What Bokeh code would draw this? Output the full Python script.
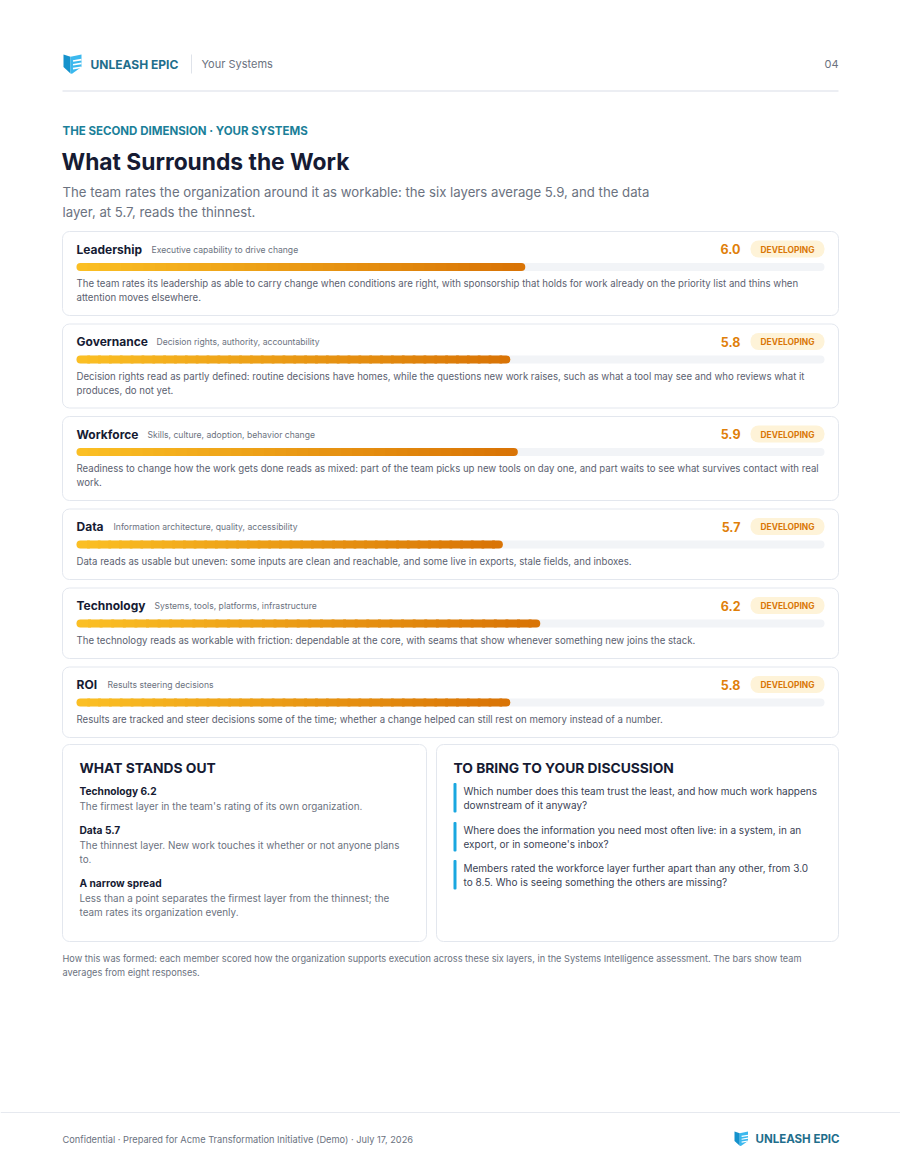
import numpy as np
from bokeh.plotting import figure
from bokeh.models import Range1d
from bokeh.embed import file_html
from bokeh.resources import INLINE
from bokeh.core.properties import value

# ---------------- data ----------------
layers = ["Leadership", "Governance", "Workforce", "Data", "Technology", "ROI"]
descriptors = [
    "Executive capability to drive change",
    "Decision rights, authority, accountability",
    "Skills, culture, adoption, behavior change",
    "Information architecture, quality, accessibility",
    "Systems, tools, platforms, infrastructure",
    "Results steering decisions",
]
scores = [6.0, 5.8, 5.9, 5.7, 6.2, 5.8]
bands = ["DEVELOPING", "DEVELOPING", "DEVELOPING", "DEVELOPING", "DEVELOPING", "DEVELOPING"]
descriptions = [
    ["The team rates its leadership as able to carry change when conditions are right, with sponsorship that holds for work already on the priority list and thins when",
     "attention moves elsewhere."],
    ["Decision rights read as partly defined: routine decisions have homes, while the questions new work raises, such as what a tool may see and who reviews what it",
     "produces, do not yet."],
    ["Readiness to change how the work gets done reads as mixed: part of the team picks up new tools on day one, and part waits to see what survives contact with real",
     "work."],
    ["Data reads as usable but uneven: some inputs are clean and reachable, and some live in exports, stale fields, and inboxes."],
    ["The technology reads as workable with friction: dependable at the core, with seams that show whenever something new joins the stack."],
    ["Results are tracked and steer decisions some of the time; whether a change helped can still rest on memory instead of a number."],
]
scale_max = 10

standout_heads = ["Technology 6.2", "Data 5.7", "A narrow spread"]
standout_texts = [
    ["The firmest layer in the team's rating of its own organization."],
    ["The thinnest layer. New work touches it whether or not anyone plans", "to."],
    ["Less than a point separates the firmest layer from the thinnest; the", "team rates its organization evenly."],
]
questions = [
    ["Which number does this team trust the least, and how much work happens", "downstream of it anyway?"],
    ["Where does the information you need most often live: in a system, in an", "export, or in someone's inbox?"],
    ["Members rated the workforce layer further apart than any other, from 3.0", "to 8.5. Who is seeing something the others are missing?"],
]

# ---------------- styles ----------------
FONT = "Inter"
NAVY = "#161b33"
GRAY = "#6b7280"
DESC = "#5b6170"
TEAL = "#1b7f99"
LOGO_TXT = "#1f6e8c"
ORANGE = "#e07f0a"
BADGE_BG = "#fef3d8"
BADGE_TX = "#d97706"
BORDER = "#e3e7ee"
TRACK = "#f2f4f7"
BLUE = "#1aa7e0"
GRAD0 = np.array([0xfb, 0xbf, 0x24])
GRAD1 = np.array([0xd9, 0x74, 0x06])

W, H = 900, 1164
p = figure(width=W, height=H, x_range=Range1d(0, W), y_range=Range1d(H, 0),
           output_backend="svg", toolbar_location=None, min_border=0,
           x_axis_location=None, y_axis_location=None)
p.grid.visible = False
p.outline_line_color = None
p.background_fill_color = "white"
p.border_fill_color = "white"

BAR_X0, BAR_X1 = 76, 824
px_per = (BAR_X1 - BAR_X0) / scale_max
p.extra_x_ranges = {"score": Range1d(start=-BAR_X0 / px_per, end=(W - BAR_X0) / px_per)}


def txt(x, y, s, size, color, bold=False, align="left", baseline="middle"):
    p.text(x=[x], y=[y], text=[s], text_font=value(FONT), text_font_size=f"{size}px",
           text_font_style="bold" if bold else "normal", text_color=color,
           text_align=align, text_baseline=baseline)


def box(l, r, t, b, radius=7, fill="white", line=BORDER):
    p.quad(left=[l], right=[r], top=[t], bottom=[b], fill_color=fill,
           line_color=line, line_width=1, border_radius=radius)


def logo(x0, y0, s=1.0):
    def pt(pts):
        return [x0 + a * s for a, b in pts], [y0 + b * s for a, b in pts]
    lx, ly = pt([(0, 0), (7, 2.2), (7, 19), (0, 12.5)])
    p.patch(lx, ly, fill_color="#1592cc", line_color=None)
    rx, ry = pt([(7, 2.2), (18, 0), (18, 12.5), (8.5, 19.3), (7, 19)])
    p.patch(rx, ry, fill_color="#3bb8ee", line_color=None)
    for yy in (6.5, 10.3, 14.1):
        sx, sy = pt([(9.5, yy), (18, yy - 1.4)])
        p.line(sx, sy, line_color="white", line_width=1.6 * s)


# ---------------- header ----------------
logo(63, 54, 1.0)
txt(90, 63.5, "UNLEASH EPIC", 12, LOGO_TXT, bold=True)
p.segment(x0=[191], y0=[54], x1=[191], y1=[73], line_color="#dfe3ea", line_width=1)
txt(201, 63.5, "Your Systems", 11, GRAY)
txt(838, 63.5, "04", 11, GRAY, align="right")
p.segment(x0=[62], y0=[90.5], x1=[838], y1=[90.5], line_color="#e6e9ef", line_width=1.5)

txt(62, 130, "THE SECOND DIMENSION · YOUR SYSTEMS", 11.5, TEAL, bold=True)
txt(61, 161, "What Surrounds the Work", 22.8, NAVY, bold=True)
txt(62, 191.5, "The team rates the organization around it as workable: the six layers average 5.9, and the data", 13.2, GRAY)
txt(62, 211.5, "layer, at 5.7, reads the thinnest.", 13.2, GRAY)

# ---------------- cards ----------------
sub_x = [151, 156, 147, 113, 154, 107]
top = 231.0
for i, name in enumerate(layers):
    nlines = len(descriptions[i])
    h = 84 if nlines == 2 else 70.5
    box(62, 838, top, top + h)
    ty = top + 17.5
    txt(76, ty, name, 12, NAVY, bold=True)
    txt(sub_x[i], ty + 0.5, descriptors[i], 8.6, GRAY)
    txt(740, ty, f"{scores[i]:.1f}", 12.5, ORANGE, bold=True, align="right")
    p.quad(left=[750], right=[824], top=[ty - 8.5], bottom=[ty + 8.5],
           fill_color=BADGE_BG, line_color=None, border_radius=8)
    txt(787, ty + 0.5, bands[i], 8.4, BADGE_TX, bold=True, align="center")
    by = top + 35.5
    # track
    p.hbar(y=[by], left=[0], right=[scale_max], height=8, x_range_name="score",
           fill_color=TRACK, line_color=None, border_radius=4)
    # gradient bar
    N = 40
    v = scores[i]
    edges = np.linspace(0, v, N + 1)
    cols = []
    for k in range(N):
        t = k / (N - 1)
        c = (GRAD0 * (1 - t) + GRAD1 * t).astype(int)
        cols.append("#%02x%02x%02x" % tuple(c))
    lefts = edges[:-1]
    rights = np.minimum(edges[1:] + v / N * 0.25, v)
    p.hbar(y=[by], left=[lefts[0]], right=[rights[0]], height=8, x_range_name="score",
           fill_color=cols[0], line_color=None, border_radius=(4, 0, 0, 4))
    p.hbar(y=[by] * (N - 2), left=list(lefts[1:-1]), right=list(rights[1:-1]), height=8,
           x_range_name="score", fill_color=cols[1:-1], line_color=None)
    p.hbar(y=[by], left=[lefts[-1]], right=[rights[-1]], height=8, x_range_name="score",
           fill_color=cols[-1], line_color=None, border_radius=(0, 4, 4, 0))
    for j, line in enumerate(descriptions[i]):
        txt(76, top + 52 + 14 * j, line, 9.65, DESC)
    top += h + 8.5

# ---------------- bottom boxes ----------------
box(62, 426, 744, 941)
box(436, 838, 744, 941)
txt(79, 767.5, "WHAT STANDS OUT", 13.8, NAVY, bold=True)
sy = [790, 829, 882]
for k, head in enumerate(standout_heads):
    txt(79, sy[k], head, 10.2, NAVY, bold=True)
    for j, line in enumerate(standout_texts[k]):
        txt(79, sy[k] + 15 + 14 * j, line, 9.9, GRAY)

txt(453, 767.5, "TO BRING TO YOUR DISCUSSION", 13.8, NAVY, bold=True)
qy = [790, 829, 867]
for k, q in enumerate(questions):
    p.quad(left=[453], right=[456], top=[qy[k] - 7.5], bottom=[qy[k] + 22],
           fill_color=BLUE, line_color=None, border_radius=1)
    for j, line in enumerate(q):
        txt(463, qy[k] + 14.5 * j, line, 10, "#3a3f55")

txt(62, 957.5, "How this was formed: each member scored how the organization supports execution across these six layers, in the Systems Intelligence assessment. The bars show team", 9.2, GRAY)
txt(62, 971.5, "averages from eight responses.", 9.2, GRAY)

# ---------------- footer ----------------
p.segment(x0=[0], y0=[1112], x1=[900], y1=[1112], line_color="#e6e9ef", line_width=1)
txt(62, 1138.5, "Confidential · Prepared for Acme Transformation Initiative (Demo) · July 17, 2026", 9.25, GRAY)
logo(734, 1131, 0.75)
txt(755, 1138.5, "UNLEASH EPIC", 11.5, LOGO_TXT, bold=True)

open("out.html", "w").write(file_html(p, INLINE))
